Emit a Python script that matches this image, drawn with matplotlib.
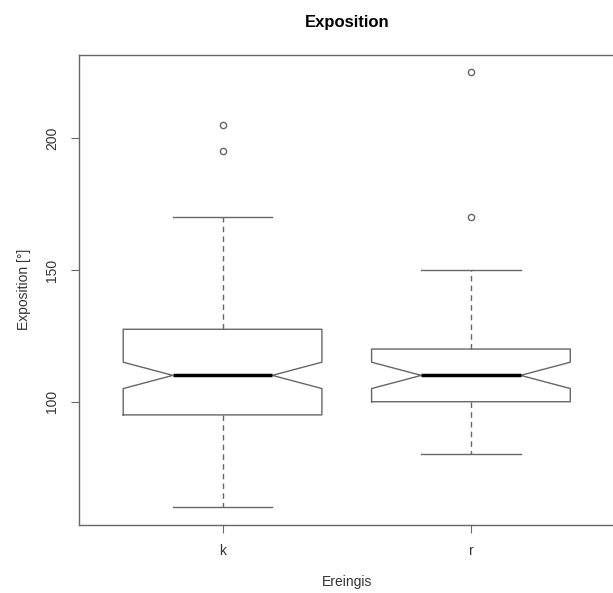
import matplotlib
matplotlib.use('Agg')
import matplotlib.pyplot as plt

plt.rcParams['font.family'] = ['Liberation Sans', 'DejaVu Sans']

# Daten
groups = ['k', 'r']
q1 = [95, 100]
med = [110, 110]
q3 = [127.5, 120]
whislo = [60, 80]
whishi = [170, 150]
cilo = [105, 105]
cihi = [115, 115]
fliers = [[205, 195], [225, 170]]

stats = []
for i, g in enumerate(groups):
    stats.append({'label': g, 'q1': q1[i], 'med': med[i], 'q3': q3[i],
                  'whislo': whislo[i], 'whishi': whishi[i],
                  'cilo': cilo[i], 'cihi': cihi[i], 'fliers': fliers[i]})

line_col = '#666666'
fig = plt.figure(figsize=(6.13, 5.93), dpi=100)
ax = fig.add_axes([78.5 / 613, 1 - 524.5 / 593, (615 - 78.5) / 613, (524.5 - 55) / 593])

ax.bxp(stats, positions=[1, 2], widths=0.8, shownotches=True,
       boxprops=dict(color=line_col, linewidth=1),
       whiskerprops=dict(color=line_col, linewidth=1, linestyle=(0, (4, 3))),
       capprops=dict(color=line_col, linewidth=1),
       medianprops=dict(color='black', linewidth=2.5, solid_capstyle='butt'),
       flierprops=dict(marker='o', markersize=4.5, markerfacecolor='none',
                       markeredgecolor=line_col, markeredgewidth=1))

ax.set_xlim(0.42, 2.58)
ax.set_ylim(53.4, 231.6)
ax.set_yticks([100, 150, 200])
ax.set_xticks([1, 2])
ax.set_xticklabels(groups)

for s in ax.spines.values():
    s.set_color(line_col)
    s.set_linewidth(1)
ax.tick_params(colors=line_col, labelcolor='#333333', labelsize=10, length=6)
for lab in ax.get_yticklabels():
    lab.set_rotation(90)
    lab.set_va('center')
ax.tick_params(axis='x', pad=8)
ax.tick_params(axis='y', pad=8)

ax.set_title('Exposition', fontsize=12, fontweight='bold', pad=20)
ax.set_xlabel('Ereingis', fontsize=10, color='#333333', labelpad=12)
ax.set_ylabel('Exposition [°]', fontsize=10, color='#333333', labelpad=10)

fig.savefig('out.png', dpi=100)
